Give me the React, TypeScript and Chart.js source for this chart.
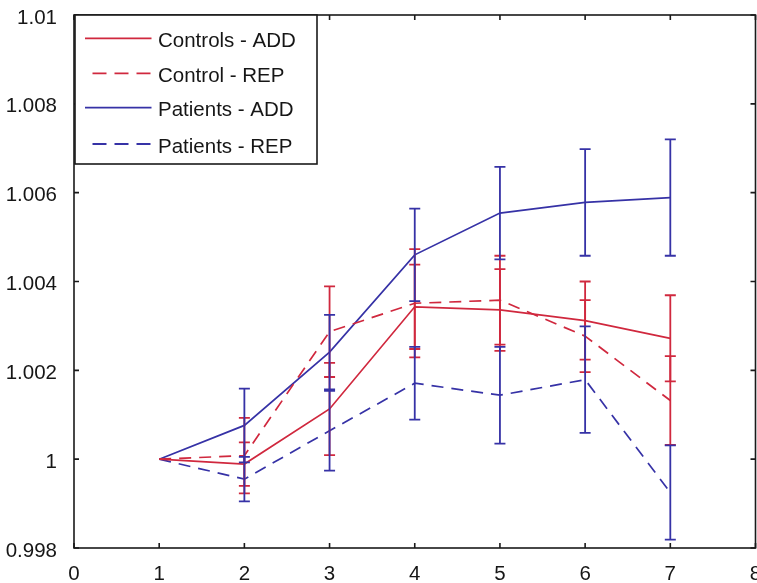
import React, { useEffect, useRef } from "react";
import { Chart, registerables } from "chart.js";

Chart.register(...registerables);

const X_VALUES = [1, 2, 3, 4, 5, 6, 7];
const SERIES_NAMES = ["Controls - ADD", "Control - REP", "Patients - ADD", "Patients - REP"];

const controlsAdd = [1.0, 0.99989, 1.00113, 1.00343, 1.00336, 1.00312, 1.00272];
const controlsAddErr = [0, 0.00049, 0.00104, 0.00095, 0.00092, 0.00088, 0.00097];
const controlRep = [1.0, 1.00008, 1.00287, 1.00351, 1.00358, 1.00277, 1.00132];
const controlRepErr = [0, 0.00085, 0.00102, 0.00122, 0.001, 0.00081, 0.001];
const patientsAdd = [1.0, 1.00076, 1.00241, 1.0046, 1.00554, 1.00578, 1.00589];
const patientsAddErr = [0, 0.00083, 0.00084, 0.00104, 0.00104, 0.0012, 0.00131];
const patientsRep = [1.0, 0.99955, 1.00064, 1.00171, 1.00144, 1.00179, 0.99925];
const patientsRepErr = [0, 0.0005, 0.0009, 0.00082, 0.00109, 0.0012, 0.00106];

const RED = "rgb(208,40,62)";
const BLUE = "rgb(54,50,166)";
const FONT = '"Liberation Sans", Arial, sans-serif';
const TEXT = "#161616";

const SERIES = [controlsAdd, controlRep, patientsAdd, patientsRep];
const ERRORS = [controlsAddErr, controlRepErr, patientsAddErr, patientsRepErr];
const COLORS = [RED, RED, BLUE, BLUE];
const DASHES: number[][] = [[], [12, 8], [], [12, 8]];

const errorBarPlugin = {
  id: "errorBars",
  afterDatasetsDraw(chart: any) {
    const ctx = chart.ctx;
    const xs = chart.scales.x;
    const ys = chart.scales.y;
    SERIES.forEach((vals, i) => {
      const errs = ERRORS[i];
      ctx.save();
      ctx.strokeStyle = COLORS[i];
      ctx.lineWidth = 1.8;
      ctx.setLineDash([]);
      vals.forEach((v, j) => {
        const e = errs[j];
        if (!e) return;
        const x = xs.getPixelForValue(X_VALUES[j]);
        const yt = ys.getPixelForValue(v + e);
        const yb = ys.getPixelForValue(v - e);
        ctx.beginPath();
        ctx.moveTo(x, yt);
        ctx.lineTo(x, yb);
        ctx.moveTo(x - 5.5, yt);
        ctx.lineTo(x + 5.5, yt);
        ctx.moveTo(x - 5.5, yb);
        ctx.lineTo(x + 5.5, yb);
        ctx.stroke();
      });
      ctx.restore();
    });
  },
};

const framePlugin = {
  id: "frame",
  afterDraw(chart: any) {
    const ctx = chart.ctx;
    const { left, right, top, bottom } = chart.chartArea;
    const xs = chart.scales.x;
    const ys = chart.scales.y;
    ctx.save();
    ctx.strokeStyle = "#1a1a1a";
    ctx.lineWidth = 1.6;
    ctx.setLineDash([]);
    ctx.strokeRect(left, top, right - left, bottom - top);
    ctx.beginPath();
    xs.ticks.forEach((t: any) => {
      const x = xs.getPixelForValue(t.value);
      ctx.moveTo(x, bottom);
      ctx.lineTo(x, bottom - 5);
      ctx.moveTo(x, top);
      ctx.lineTo(x, top + 5);
    });
    ys.ticks.forEach((t: any) => {
      const y = ys.getPixelForValue(t.value);
      ctx.moveTo(left, y);
      ctx.lineTo(left + 5, y);
      ctx.moveTo(right, y);
      ctx.lineTo(right - 5, y);
    });
    ctx.stroke();

    // legend box
    const bx = left + 1;
    const by = top;
    const bw = 242;
    const bh = 149;
    ctx.fillStyle = "#ffffff";
    ctx.fillRect(bx, by, bw, bh);
    ctx.lineWidth = 1.6;
    ctx.strokeRect(bx, by, bw, bh);
    const rowY = [38.3, 73.3, 107.7, 144];
    SERIES_NAMES.forEach((name, i) => {
      const y = rowY[i];
      ctx.save();
      ctx.strokeStyle = COLORS[i];
      ctx.lineWidth = 1.8;
      ctx.setLineDash(DASHES[i].length ? [14, 8] : []);
      ctx.beginPath();
      const x0 = DASHES[i].length ? 92.5 : 85;
      ctx.moveTo(x0, y);
      ctx.lineTo(151.5, y);
      ctx.stroke();
      ctx.restore();
      ctx.fillStyle = TEXT;
      ctx.font = `20.5px ${FONT}`;
      ctx.textBaseline = "middle";
      ctx.textAlign = "left";
      ctx.fillText(name, 158, y + 3);
    });
    ctx.restore();
  },
};

export default function App() {
  const ref = useRef<HTMLCanvasElement | null>(null);
  useEffect(() => {
    if (!ref.current) return;
    const chart = new Chart(ref.current, {
      type: "line",
      data: {
        datasets: SERIES.map((vals, i) => ({
          label: SERIES_NAMES[i],
          data: X_VALUES.map((x, j) => ({ x, y: vals[j] })),
          borderColor: COLORS[i],
          backgroundColor: COLORS[i],
          borderWidth: 1.7,
          borderDash: DASHES[i],
          pointRadius: 0,
          tension: 0,
          fill: false,
        })),
      },
      options: {
        animation: false,
        responsive: false,
        devicePixelRatio: 1,
        layout: { autoPadding: false, padding: { top: 15, right: 1.5, left: 0, bottom: 0 } },
        plugins: { legend: { display: false }, tooltip: { enabled: false } },
        scales: {
          x: {
            type: "linear",
            min: 0,
            max: 8,
            grid: { display: false },
            border: { display: false },
            ticks: {
              stepSize: 1,
              color: TEXT,
              font: { family: FONT, size: 20.5 },
              padding: 6,
              maxRotation: 0,
            },
            afterFit: (s: any) => {
              s.height = 35;
              s.paddingLeft = 0;
              s.paddingRight = 0;
            },
          },
          y: {
            type: "linear",
            min: 0.998,
            max: 1.01,
            grid: { display: false },
            border: { display: false },
            ticks: {
              stepSize: 0.002,
              color: TEXT,
              font: { family: FONT, size: 20.5 },
              padding: 9,
              labelOffset: 3,
              callback: (v: any) => parseFloat(Number(v).toFixed(3)).toString(),
            },
            afterFit: (s: any) => {
              s.width = 74;
              s.paddingTop = 0;
              s.paddingBottom = 0;
            },
          },
        },
      } as any,
      plugins: [errorBarPlugin, framePlugin],
    });
    return () => chart.destroy();
  }, []);
  return (
    <div style={{ position: "fixed", left: 0, top: 0, width: 757, height: 583, background: "#fff" }}>
      <canvas ref={ref} width={757} height={583} />
    </div>
  );
}
